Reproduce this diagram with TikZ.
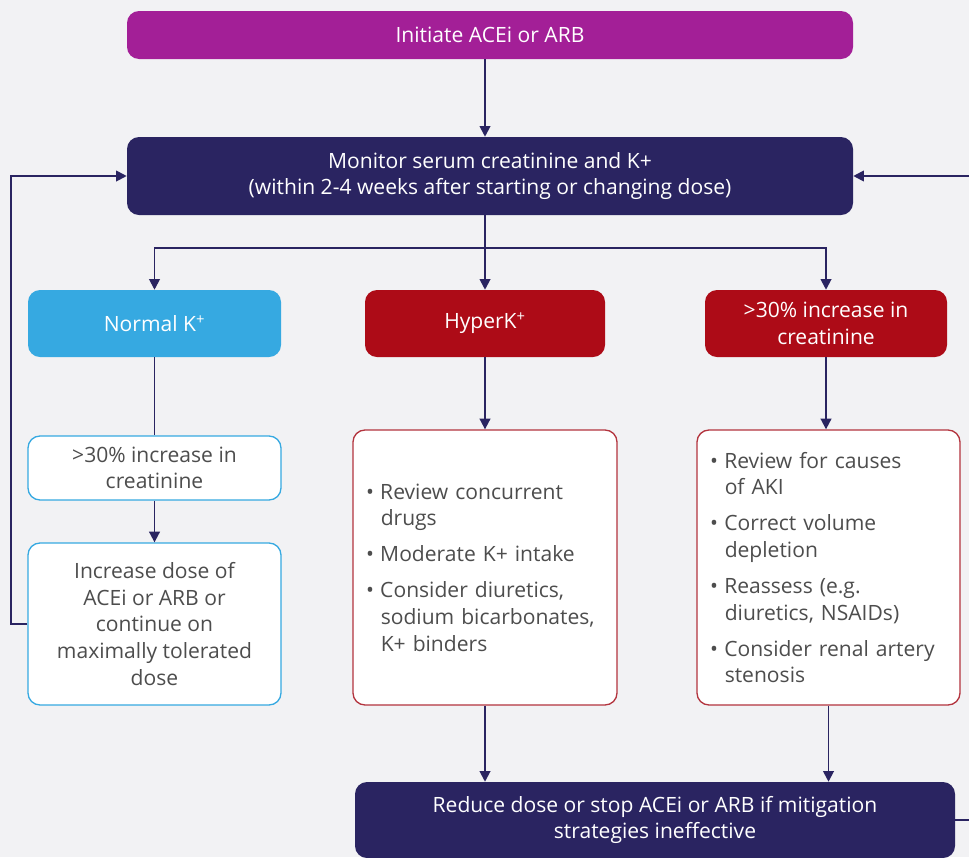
\documentclass[tikz,border=0pt]{standalone}
\usepackage{fontspec}
\setmainfont{Open Sans}
\usetikzlibrary{arrows.meta, calc}
\definecolor{mMagenta}{HTML}{A31F97}
\definecolor{mNavy}{HTML}{2A2461}
\definecolor{mBlue}{HTML}{36A9E1}
\definecolor{mRed}{HTML}{AD0B17}
\definecolor{mRedLine}{HTML}{B3343E}
\definecolor{mText}{HTML}{4D4D4D}
\definecolor{mBack}{HTML}{F2F2F4}
\newcommand{\bl}{\textbullet\hspace{0.3em}}
\newcommand{\ind}{\hspace*{0.7em}}

\begin{document}
\begin{tikzpicture}[x=0.75pt, y=-0.75pt,
  font=\fontsize{15.8}{20}\selectfont,
  box/.style={rounded corners=9pt, minimum height=50.25pt, align=center, text=white, inner sep=0pt},
  wbox/.style={box, fill=white, text=mText, line width=1pt},
  lbox/.style={wbox, draw=mRedLine, align=left, minimum height=206.25pt},
  link/.style={draw=mNavy, line width=1.4pt},
  arr/.style={link, -{Triangle[length=8pt, width=8pt]}},
]
  \fill[mBack] (0,0) rectangle (969,857);
  \useasboundingbox (0,0) rectangle (969,857);

  % top of the chart
  \node[box, fill=mMagenta, minimum width=544.5pt, minimum height=36pt] (init) at (490,35) {Initiate ACEi or ARB};
  \node[box, fill=mNavy, minimum width=544.5pt, minimum height=58.5pt] (mon) at (490,176)
    {Monitor serum creatinine and K+\\(within 2-4 weeks after starting or changing dose)};

  % three outcomes
  \node[box, fill=mBlue, minimum width=189.75pt] (norm) at (154.5,323.5) {Normal K\textsuperscript{+}};
  \node[box, fill=mRed, minimum width=180pt] (hyper) at (485,323.5) {HyperK\textsuperscript{+}};
  \node[box, fill=mRed, minimum width=181.5pt] (creat) at (826,323.5) {>30\% increase in\\creatinine};

  % left column
  \node[wbox, draw=mBlue, minimum width=189.75pt, minimum height=48pt] (rise) at (154.5,468) {>30\% increase in\\creatinine};
  \node[wbox, draw=mBlue, minimum width=189.75pt, minimum height=121.5pt] (incr) at (154.5,624)
    {Increase dose of\\ACEi or ARB or\\continue on\\maximally tolerated\\dose};

  % mitigation lists
  \node[lbox, minimum width=198pt, text width=178.5pt] (mid) at (485,567.5)
    {\bl Review concurrent\\\ind drugs\\[7pt]
     \bl Moderate K+ intake\\[7pt]
     \bl Consider diuretics,\\\ind sodium bicarbonates,\\\ind K+ binders};
  \node[lbox, minimum width=197.25pt, text width=177.75pt] (rgt) at (828.5,567.5)
    {\bl Review for causes\\\ind of AKI\\[7pt]
     \bl Correct volume\\\ind depletion\\[7pt]
     \bl Reassess (e.g.\\\ind diuretics, NSAIDs)\\[7pt]
     \bl Consider renal artery\\\ind stenosis};

  \node[box, fill=mNavy, minimum width=450pt, minimum height=57pt] (stop) at (655,820)
    {Reduce dose or stop ACEi or ARB if mitigation\\strategies ineffective};

  % connectors
  \draw[arr] (init.south -| hyper.north) -- (mon.north -| hyper.north);
  \draw[link] (mon.south -| hyper.north) -- ++(0,33) coordinate (fork);
  \draw[arr] (fork) -| (norm.north);
  \draw[arr] (fork) -- (hyper.north);
  \draw[arr] (fork) -| (creat.north);
  \draw[link] (norm) -- (rise);
  \draw[arr] (rise) -- (incr);
  \draw[arr] (hyper) -- (mid);
  \draw[arr] (creat) -- (creat |- rgt.north);
  \draw[arr] (mid) -- (mid |- stop.north);
  \draw[arr] (rgt) -- (rgt |- stop.north);
  \draw[arr] (incr.west) -- ++(-16,0) |- (mon.west);
  \draw[arr] (stop.east) -- ++(30,0) |- (mon.east);
\end{tikzpicture}
\end{document}
